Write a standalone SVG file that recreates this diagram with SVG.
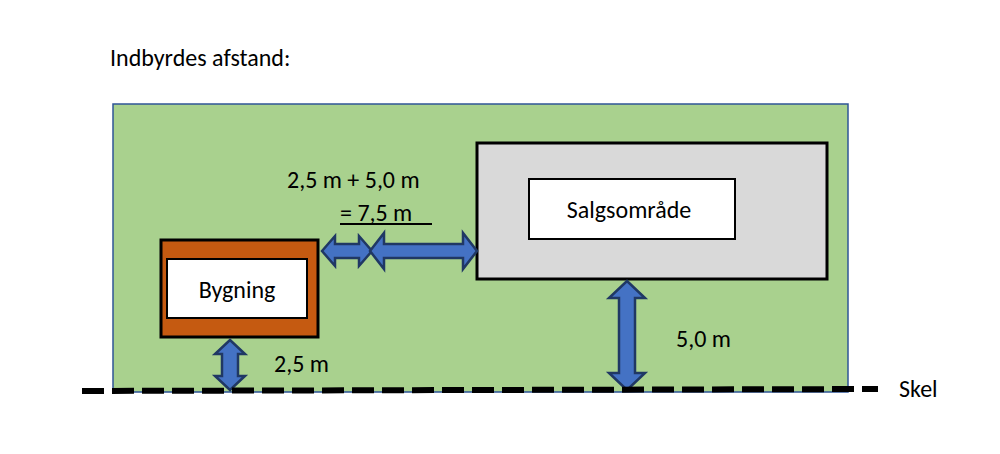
<svg xmlns="http://www.w3.org/2000/svg" width="1000" height="454" viewBox="0 0 1000 454">
<style>
text{font-family:Calibri,"Carlito","Liberation Sans",sans-serif;font-size:24px;fill:#000}
.arr{fill:#4472C4;stroke:#203864;stroke-width:2.5;stroke-linejoin:miter}
.box{stroke:#000;stroke-width:3}
</style>
<rect width="1000" height="454" fill="#fff"/>
<text x="110" y="66">Indbyrdes afstand:</text>
<rect x="113" y="104" width="735" height="288" fill="#A9D18E" stroke="#2F5597" stroke-width="1.5"/>
<g id="bygning">
<rect class="box" x="161" y="240" width="157" height="97" fill="#C55A11"/>
<rect x="167" y="259" width="140" height="59" fill="#fff" stroke="#000" stroke-width="2"/>
<text x="237" y="298" text-anchor="middle">Bygning</text>
</g>
<g id="salg">
<rect class="box" x="477" y="143" width="350" height="136" fill="#D9D9D9"/>
<rect x="529" y="179" width="206" height="60" fill="#fff" stroke="#000" stroke-width="2"/>
<text x="629" y="218" text-anchor="middle">Salgsområde</text>
</g>
<g id="connectors">
<path class="arr" d="M322,251 L335,236 L335,244 L359,244 L359,236 L372,251 L359,266 L359,258 L335,258 L335,266 Z"/>
<path class="arr" d="M370,251 L384,233 L384,244 L463,244 L463,233 L477,251 L463,269 L463,258 L384,258 L384,269 Z"/>
<path class="arr" d="M230,340 L245,354 L238,354 L238,376 L245,376 L230,390 L215,376 L222,376 L222,354 L215,354 Z"/>
<path class="arr" d="M627,281 L645,298 L635,298 L635,373 L645,373 L627,390 L609,373 L619,373 L619,298 L609,298 Z"/>
<line x1="82" y1="391" x2="878" y2="389" stroke="#000" stroke-width="6" stroke-dasharray="22 8"/>
</g>
<text x="287" y="188">2,5 m +  5,0 m</text>
<text x="340" y="221">= 7,5 m</text>
<line x1="340" y1="224" x2="432" y2="224" stroke="#000" stroke-width="2"/>
<text x="274" y="372">2,5 m</text>
<text x="676" y="347">5,0 m</text>
<text x="899" y="397">Skel</text>
</svg>
